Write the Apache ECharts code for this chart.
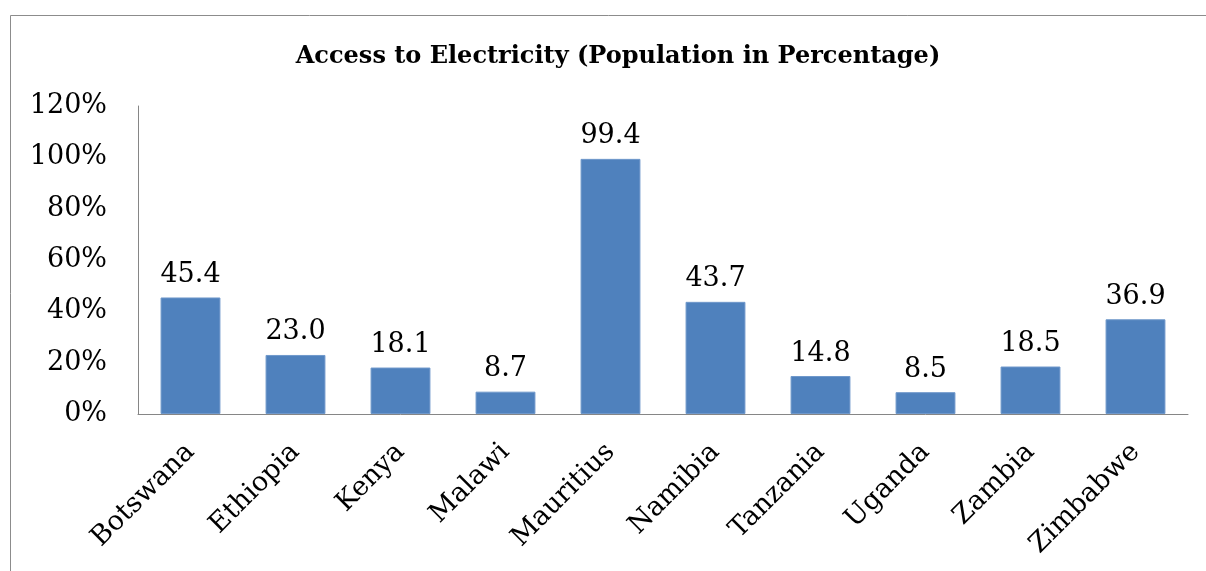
<!DOCTYPE html>
<html>
<head>
<meta charset="utf-8">
<script src="https://cdn.jsdelivr.net/npm/echarts@6/dist/echarts.min.js"></script>
<style>
  html, body { margin: 0; padding: 0; background: #fff; }
  #chart { width: 1206px; height: 571px; }
</style>
</head>
<body>
<div id="chart"></div>
<script>
// 数据
const countries = ['Botswana', 'Ethiopia', 'Kenya', 'Malawi', 'Mauritius', 'Namibia', 'Tanzania', 'Uganda', 'Zambia', 'Zimbabwe'];
const accessValues = [45.4, 23.0, 18.1, 8.7, 99.4, 43.7, 14.8, 8.5, 18.5, 36.9];
const yTicks = [0, 20, 40, 60, 80, 100, 120];

const serif = '"DejaVu Serif", "Liberation Serif", serif';

const chart = echarts.init(document.getElementById('chart'));

const option = {
    animation: false,
    backgroundColor: '#fff',
    title: {
        text: 'Access to Electricity (Population in Percentage)',
        left: 613,
        top: 40,
        textAlign: 'center',
        textStyle: {
            fontFamily: serif,
            fontWeight: 'bold',
            fontSize: 24,
            color: '#000'
        }
    },
    // 外框
    graphic: [{
        type: 'rect',
        shape: { x: 10.5, y: 15.5, width: 1300, height: 700 },
        style: { fill: 'none', stroke: '#8c8c8c', lineWidth: 1 },
        silent: true
    }],
    grid: {
        left: 138,
        right: 18,
        top: 106,
        bottom: 157
    },
    xAxis: {
        type: 'category',
        data: countries,
        axisLine: { lineStyle: { color: '#868686', width: 1 } },
        axisTick: { show: false },
        axisLabel: {
            rotate: 45,
            interval: 0,
            margin: 34,
            fontFamily: serif,
            fontSize: 27,
            color: '#000'
        }
    },
    yAxis: {
        type: 'value',
        min: yTicks[0],
        max: yTicks[yTicks.length - 1],
        interval: yTicks[1] - yTicks[0],
        axisLine: { show: true, lineStyle: { color: '#868686', width: 1 } },
        axisTick: { show: false },
        splitLine: { show: false },
        axisLabel: {
            margin: 31,
            fontFamily: serif,
            fontSize: 27,
            color: '#000',
            formatter: '{value}%'
        }
    },
    series: [{
        type: 'bar',
        data: accessValues,
        barWidth: '57%',
        itemStyle: {
            color: '#4f81bd',
            borderColor: '#6f98cb',
            borderWidth: 1
        },
        label: {
            show: true,
            position: 'top',
            distance: 9,
            fontFamily: serif,
            fontSize: 27,
            color: '#000',
            formatter: p => p.value.toFixed(1)
        }
    }]
};

chart.setOption(option);
</script>
</body>
</html>
